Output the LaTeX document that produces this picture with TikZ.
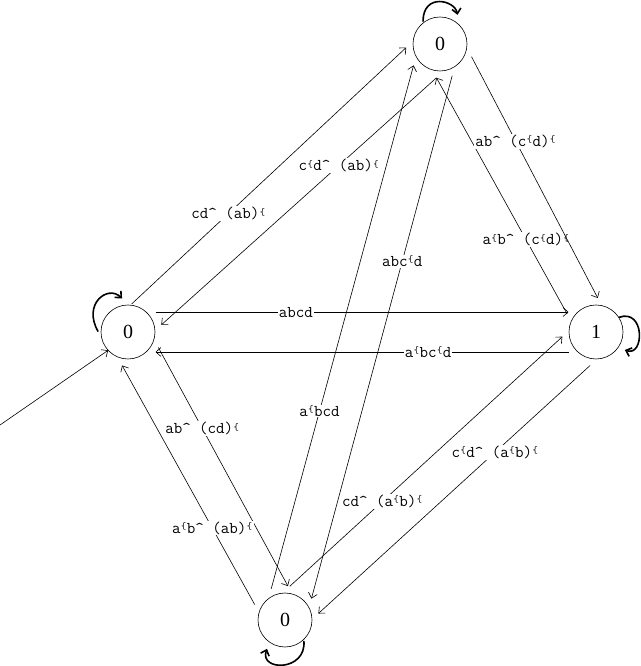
\documentclass[tikz,border=0pt]{standalone}
\usepackage{fontspec}
\setmainfont{Liberation Serif}
\usetikzlibrary{arrows.meta}
\newcommand{\cmpl}{\raisebox{0.5ex}{\makebox[0.38em]{\fontsize{10}{10}\selectfont\{}}}
\newcommand{\crt}{\textasciicircum}
\begin{document}
\begin{tikzpicture}[x=1pt,y=1pt,
  state/.style={circle, draw, line width=0.6pt, minimum size=54pt, inner sep=0pt, outer sep=7pt, font=\fontsize{20}{20}\selectfont},
  edge/.style={line width=0.6pt, -{Straight Barb[length=5pt,width=9pt]}},
  selfloop/.style={line width=1.6pt, -{Straight Barb[length=5pt,width=9pt]}},
  lab/.style={fill=white, inner sep=1pt, font=\ttfamily\fontsize{16.5}{18}\selectfont}]
\useasboundingbox (0,0) rectangle (640,666);

\node[state] (T) at (440,622) {0};
\node[state] (L) at (128,334) {0};
\node[state] (R) at (596,334) {1};
\node[state] (B) at (285,46) {0};
\coordinate (init) at (0,241);

% initial arrow
\draw[edge, shorten >=-7pt] (init) -- (L.-139);

% edges
\draw[edge, shorten <=-7pt] (L.75) -- node[lab,pos=0.34]{cd\crt{} (ab)\cmpl} (T.186);
\draw[edge] (T.-96) -- node[lab,pos=0.355]{c\cmpl d\crt{} (ab)\cmpl} (L.12);
\draw[edge] (B.114) -- node[lab,pos=0.34]{a\cmpl bcd} (T.-141);
\draw[edge] (T.-69) -- node[lab,pos=0.355]{abc\cmpl d} (B.39);
\draw[edge] (R.148) -- node[lab,pos=0.315]{a\cmpl b\crt{} (c\cmpl d)\cmpl} (T.-96);
\draw[edge] (T.-22) -- node[lab,pos=0.35]{ab\crt{} (c\cmpl d)\cmpl} (R.87);
\draw[edge] (L.36) -- node[lab,pos=0.34]{abcd} (R.144);
\draw[edge] (R.-144) -- node[lab,pos=0.34]{a\cmpl bc\cmpl d} (L.-36);
\draw[edge] (L.-27) -- node[lab,pos=0.34]{ab\crt{} (cd)\cmpl} (B.85);
\draw[edge] (B.153) -- node[lab,pos=0.32]{a\cmpl b\crt{} (ab)\cmpl} (L.-100);
\draw[edge] (B.82) -- node[lab,pos=0.34]{cd\crt{} (a\cmpl b)\cmpl} (R.188);
\draw[edge] (R.-100) -- node[lab,pos=0.35]{c\cmpl d\crt{} (a\cmpl b)\cmpl} (B.11);

% self loops
\draw[selfloop, shorten <=-7pt] (T.120) .. controls +(90:22) and +(100:15) .. (T.59);
\draw[selfloop, shorten <=-7pt] (L.169) .. controls +(120:25) and +(135:20) .. (L.100);
\draw[selfloop, shorten <=-7pt] (R.30) .. controls +(20:21) and +(-20:21) .. (R.-32);
\draw[selfloop, shorten <=-7pt] (B.-55) .. controls +(-85:24) and +(-110:24) .. (B.-122);
\end{tikzpicture}
\end{document}
